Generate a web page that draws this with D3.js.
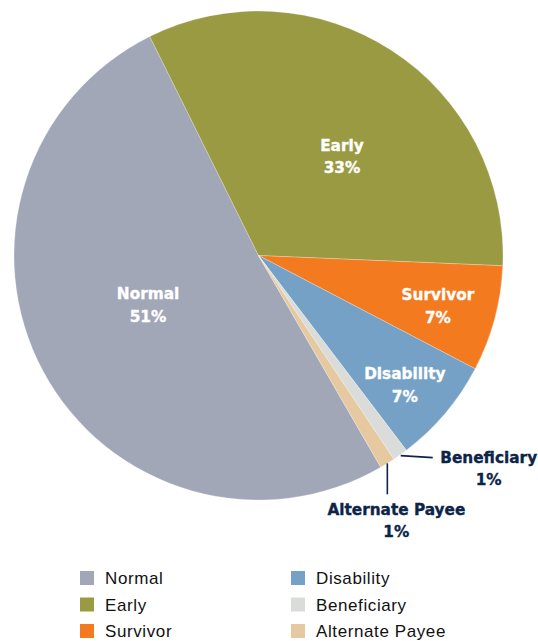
<!DOCTYPE html>
<html>
<head>
<meta charset="utf-8">
<script src="https://cdn.jsdelivr.net/npm/d3@7"></script>
<style>
  body { margin: 0; background: #fff; }
  svg { display: block; }
</style>
</head>
<body>
<div id="chart"></div>
<script>
// slice categories and shares (percent)
var categories = ["Normal", "Early", "Survivor", "Disability", "Beneficiary", "Alternate Payee"];
var shares = [51, 33, 7, 7, 1, 1];
var colors = ["#a2a7b8", "#9a9a42", "#f47a20", "#76a1c6", "#d9dcd9", "#e6c9a0"];

var width = 538, height = 641;
var cx = 258.5, cy = 255.5, radius = 244.5;

var svg = d3.select("#chart")
    .append("svg")
    .attr("width", width)
    .attr("height", height);

var data = categories.map(function(c, i) {
    return {name: c, value: shares[i], color: colors[i]};
});

var pie = d3.pie()
    .sort(null)
    .value(function(d) { return d.value; })
    .startAngle(150 * Math.PI / 180)
    .endAngle(510 * Math.PI / 180);

var arc = d3.arc().innerRadius(0).outerRadius(radius);

var g = svg.append("g")
    .attr("transform", "translate(" + cx + "," + cy + ")");

var slices = pie(data);

g.selectAll("path")
    .data(slices)
    .enter()
    .append("path")
    .attr("d", arc)
    .attr("fill", function(d) { return d.data.color; })
    .attr("stroke", "#fff")
    .attr("stroke-width", 0.25);

// label placement: fraction of radius and angle nudge (deg) from slice middle
var inside = {
    "Normal": {k: 0.504, shift: 1.9},
    "Early": {k: 0.514, shift: 8.6},
    "Survivor": {k: 0.768, shift: 2.2},
    "Disability": {k: 0.813, shift: 2.4}
};

function polar(angle, r) {
    return [Math.sin(angle) * r, -Math.cos(angle) * r];
}

function boldText(color) {
    return g.append("text")
        .attr("text-anchor", "middle")
        .attr("font-family", "DejaVu Sans, sans-serif")
        .attr("font-weight", "bold")
        .attr("font-size", "15.3px")
        .attr("fill", color)
        .attr("stroke", color)
        .attr("stroke-width", 0.35);
}

slices.forEach(function(s) {
    var cfg = inside[s.data.name];
    if (!cfg) return;
    var mid = (s.startAngle + s.endAngle) / 2 + cfg.shift * Math.PI / 180;
    var p = polar(mid, radius * cfg.k);
    var t = boldText("#fff");
    t.append("tspan").attr("x", p[0]).attr("y", p[1] - 11).text(s.data.name);
    t.append("tspan").attr("x", p[0]).attr("y", p[1] + 11.5).text(s.data.value + "%");
});

// outside labels with leader lines
var navy = "#0d2449";
var ben = slices[4], alt = slices[5];

var bMid = (ben.startAngle + ben.endAngle) / 2;
var bp = polar(bMid, radius + 1);
g.append("line")
    .attr("x1", bp[0]).attr("y1", bp[1])
    .attr("x2", bp[0] + 32).attr("y2", bp[1] + 2)
    .attr("stroke", navy).attr("stroke-width", 1.6);
var bt = boldText(navy);
bt.append("tspan").attr("x", bp[0] + 88).attr("y", bp[1] + 7).text(ben.data.name);
bt.append("tspan").attr("x", bp[0] + 88).attr("y", bp[1] + 29).text(ben.data.value + "%");

var aMid = (alt.startAngle + alt.endAngle) / 2;
var ap = polar(aMid, radius);
g.append("line")
    .attr("x1", ap[0]).attr("y1", ap[1])
    .attr("x2", ap[0]).attr("y2", ap[1] + 31)
    .attr("stroke", navy).attr("stroke-width", 1.6);
var at = boldText(navy);
at.append("tspan").attr("x", ap[0] + 9).attr("y", ap[1] + 52).text(alt.data.name);
at.append("tspan").attr("x", ap[0] + 9).attr("y", ap[1] + 74).text(alt.data.value + "%");

// legend, two columns of three
var legend = svg.append("g");
var item = legend.selectAll("g")
    .data(data)
    .enter()
    .append("g")
    .attr("transform", function(d, i) {
        var col = Math.floor(i / 3), row = i % 3;
        return "translate(" + (80 + col * 211) + "," + (571 + row * 26.5) + ")";
    });

item.append("rect")
    .attr("width", 14)
    .attr("height", 14)
    .attr("fill", function(d) { return d.color; });

item.append("text")
    .attr("x", 25)
    .attr("y", 13)
    .attr("font-family", "Liberation Sans, Arial, sans-serif")
    .attr("font-size", "17px")
    .attr("letter-spacing", "0.6px")
    .attr("fill", "#111")
    .text(function(d) { return d.name; });
</script>
</body>
</html>
